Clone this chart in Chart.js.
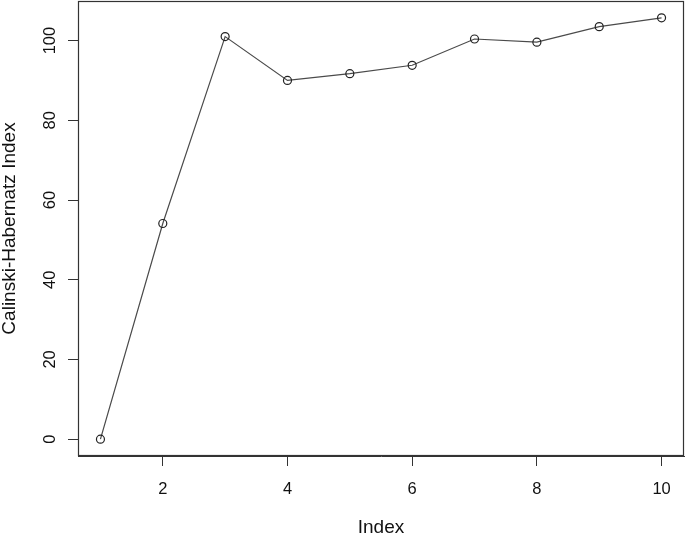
<!DOCTYPE html>
<html>
<head>
<meta charset="utf-8">
<script src="https://cdn.jsdelivr.net/npm/chart.js@4/dist/chart.umd.min.js"></script>
<style>
  html, body { margin: 0; padding: 0; background: #fff; }
  canvas { display: block; }
</style>
</head>
<body>
<canvas id="chart" width="685" height="535"></canvas>
<script>
const indexValues = [1, 2, 3, 4, 5, 6, 7, 8, 9, 10];
const chValues = [0, 54.1, 101.0, 90.0, 91.7, 93.8, 100.4, 99.6, 103.5, 105.7];
const xTicks = [2, 4, 6, 8, 10];
const yTicks = [0, 20, 40, 60, 80, 100];
const xTitle = "Index";
const yTitle = "Calinski-Habernatz Index";

const INK = "#333";
const FONT = "'Liberation Sans', Arial, sans-serif";

// R-style frame + rotated y labels + axis titles
const rAxes = {
  id: "rAxes",
  afterDraw(chart) {
    const { ctx, chartArea: a, scales } = chart;
    ctx.save();
    ctx.strokeStyle = INK;
    ctx.lineWidth = 1.2;
    ctx.strokeRect(a.left + 0.5, a.top + 0.5, a.right - a.left - 1, a.bottom - a.top - 1);

    ctx.fillStyle = "#111";
    ctx.font = "16.5px " + FONT;

    ctx.textAlign = "center";
    ctx.textBaseline = "alphabetic";
    for (const v of xTicks) {
      ctx.fillText(String(v), scales.x.getPixelForValue(v), 494);
    }

    for (const v of yTicks) {
      const y = scales.y.getPixelForValue(v);
      ctx.save();
      ctx.translate(55, y);
      ctx.rotate(-Math.PI / 2);
      ctx.fillText(String(v), 0, 0);
      ctx.restore();
    }

    ctx.font = "19px " + FONT;
    ctx.fillText(xTitle, (a.left + a.right) / 2, 533);

    ctx.save();
    ctx.translate(15, (a.top + a.bottom) / 2);
    ctx.rotate(-Math.PI / 2);
    ctx.fillText(yTitle, 0, 0);
    ctx.restore();

    ctx.restore();
  }
};

new Chart(document.getElementById("chart"), {
  type: "line",
  data: {
    datasets: [{
      data: indexValues.map((x, i) => ({ x, y: chValues[i] })),
      borderColor: "#4a4a4a",
      borderWidth: 1.2,
      pointRadius: 4,
      pointBorderWidth: 1.2,
      pointBorderColor: "#222",
      pointBackgroundColor: "rgba(0,0,0,0)",
      tension: 0,
      clip: false
    }]
  },
  options: {
    responsive: false,
    animation: false,
    layout: { autoPadding: false, padding: { top: 1, right: 1, left: 0, bottom: 0 } },
    plugins: { legend: { display: false }, tooltip: { enabled: false } },
    scales: {
      x: {
        type: "linear",
        min: 0.64,
        max: 10.36,
        afterBuildTicks: s => { s.ticks = xTicks.map(v => ({ value: v })); },
        afterFit: s => { s.height = 79; },
        ticks: { display: false },
        grid: { drawOnChartArea: false, drawTicks: true, tickLength: 10, color: INK },
        border: { display: true, color: INK }
      },
      y: {
        type: "linear",
        min: -4.23,
        max: 109.93,
        afterBuildTicks: s => { s.ticks = yTicks.map(v => ({ value: v })); },
        afterFit: s => { s.width = 78; },
        ticks: { display: false },
        grid: { drawOnChartArea: false, drawTicks: true, tickLength: 10, color: INK },
        border: { display: true, color: INK }
      }
    }
  },
  plugins: [rAxes]
});
</script>
</body>
</html>
